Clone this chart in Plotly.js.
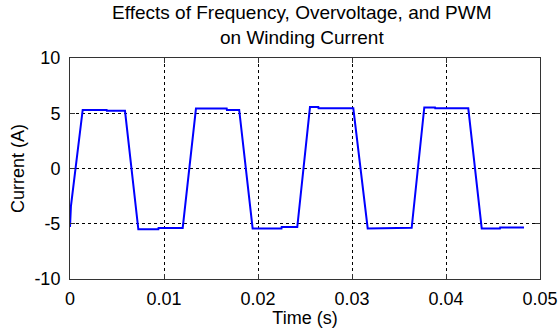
<!DOCTYPE html>
<html>
<head>
<meta charset="utf-8">
<script src="https://cdn.plot.ly/plotly-3.0.1.min.js"></script>
<style>html,body{margin:0;padding:0;background:#fff;}#chart{width:560px;height:328px;}</style>
</head>
<body>
<div id="chart"></div>
<script>
// Time (s)
const timeS = [0, 0.0001, 0.00135, 0.0039, 0.00392, 0.00585, 0.00727, 0.0094, 0.00942, 0.01199, 0.0134, 0.01667, 0.01669, 0.0180, 0.01943, 0.0225, 0.02252, 0.02418, 0.02553, 0.02642, 0.02644, 0.03014, 0.03167, 0.0337, 0.03372, 0.03635, 0.03769, 0.03883, 0.03885, 0.04237, 0.0438, 0.04574, 0.04576, 0.0483];
// Winding current (A)
const currentA = [-5.3, -3.4, 5.3, 5.3, 5.22, 5.22, -5.5, -5.5, -5.38, -5.38, 5.42, 5.42, 5.3, 5.3, -5.42, -5.42, -5.3, -5.3, 5.56, 5.56, 5.45, 5.45, -5.42, -5.42, -5.36, -5.36, 5.52, 5.52, 5.45, 5.45, -5.42, -5.42, -5.33, -5.33];
const xTicks = [0, 0.01, 0.02, 0.03, 0.04, 0.05];
const xTickText = ['0', '0.01', '0.02', '0.03', '0.04', '0.05'];
const yTicks = [-10, -5, 0, 5, 10];
const yTickText = ['-10', '-5', '0', '5', '10'];

const FONT = 'Arial, "Liberation Sans", sans-serif';

const trace = {
  x: timeS, y: currentA, type: 'scatter', mode: 'lines',
  line: {color: '#0000ff', width: 2}, hoverinfo: 'none'
};

const axisCommon = {
  showline: true, mirror: 'ticks', linecolor: '#333', linewidth: 1,
  ticks: 'inside', ticklen: 5, tickcolor: '#333',
  showgrid: true, gridcolor: '#000', griddash: 'dot', gridwidth: 1,
  zeroline: false, tickfont: {family: FONT, size: 18, color: '#000'},
  tickmode: 'array'
};

const layout = {
  width: 560, height: 328,
  margin: {l: 70, r: 20, t: 58, b: 49, pad: 0},
  paper_bgcolor: '#fff', plot_bgcolor: '#fff',
  showlegend: false,
  title: {
    text: 'Effects of Frequency, Overvoltage, and PWM<br>on Winding Current',
    font: {family: FONT, size: 19, color: '#000'},
    xref: 'container', x: 0.539, xanchor: 'center',
    yref: 'container', y: 0.942, yanchor: 'top'
  },
  xaxis: Object.assign({}, axisCommon, {
    range: [0, 0.05], tickvals: xTicks, ticktext: xTickText,
    ticklabelstandoff: 3,
    title: {text: 'Time (s)', font: {family: FONT, size: 18, color: '#000'}, standoff: 0}
  }),
  yaxis: Object.assign({}, axisCommon, {
    range: [-10, 10], tickvals: yTicks, ticktext: yTickText,
    ticklabelstandoff: 5,
    title: {text: 'Current (A)', font: {family: FONT, size: 18, color: '#000'}, standoff: 5}
  })
};

Plotly.newPlot('chart', [trace], layout, {staticPlot: true, displayModeBar: false});
</script>
</body>
</html>
